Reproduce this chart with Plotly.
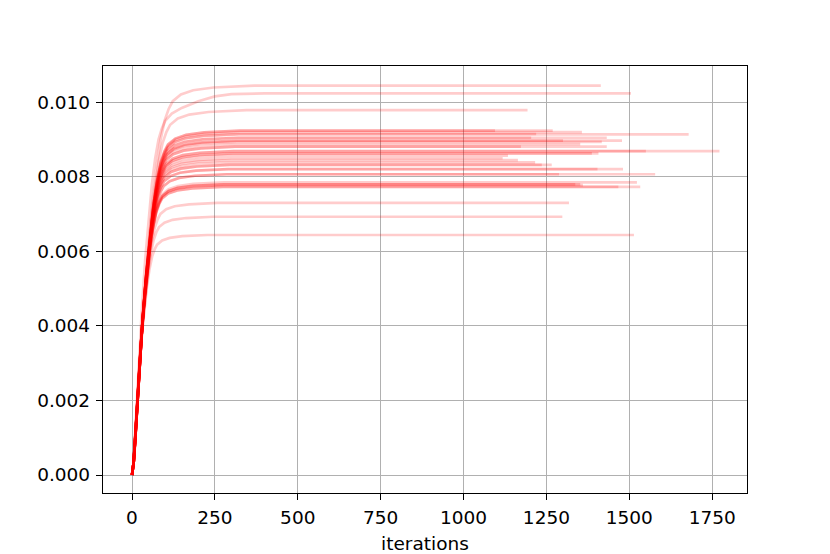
import plotly.graph_objects as go

# plateau value and last iteration of each run
plateaus = [0.01045, 0.00979, 0.00924, 0.00924, 0.00920, 0.00914, 0.00915,
            0.00905, 0.00905, 0.00897, 0.00897, 0.00894, 0.00888, 0.00881,
            0.00881, 0.00869, 0.00869, 0.00863, 0.00863, 0.00857, 0.00850,
            0.00845, 0.00839, 0.00832, 0.00832, 0.00821, 0.00821, 0.00807,
            0.00807, 0.00785, 0.00780, 0.00780, 0.00778, 0.00773, 0.00773,
            0.00730, 0.00693, 0.00644]
ends = [1414, 1193, 1095, 1269, 1357, 1679, 1219,
        1432, 1204, 1478, 1300, 1417, 1352, 1432,
        1173, 1772, 1550, 1407, 1387, 1134, 1118,
        1164, 1216, 1266, 1236, 1481, 1404, 1578,
        1288, 1523, 1352, 1337, 1360, 1533, 1467,
        1318, 1298, 1514]

# shared rise profile (fraction of plateau) for a run with plateau 0.0085
ref_plateau = 0.0085
rise_iter = [0, 5, 10, 20, 30, 40, 50, 60, 70, 80, 90, 100, 120, 150, 200, 300]
rise_frac = [0, 0.04, 0.12, 0.31, 0.46, 0.59, 0.70, 0.79, 0.86, 0.91, 0.94,
             0.96, 0.977, 0.988, 0.995, 1.0]

# the one run that creeps up slowly after its knee
slow_iter = [0, 5, 10, 20, 30, 40, 50, 60, 70, 80, 90, 100, 120, 150, 200,
             250, 300, 400, 1505]
slow_vals = [0, 0.0004, 0.0012, 0.0030, 0.0045, 0.0058, 0.0069, 0.0078,
             0.0085, 0.0090, 0.0093, 0.0095, 0.0097, 0.00985, 0.01003,
             0.01016, 0.01022, 0.01024, 0.01024]

line_style = dict(color='rgba(255,0,0,0.2)', width=2.7)

data = []
for p, e in zip(plateaus, ends):
    k = p / ref_plateau
    xs = [i * k for i in rise_iter] + [e]
    ys = [f * p for f in rise_frac] + [p]
    data.append(go.Scatter(x=xs, y=ys, mode='lines', line=line_style,
                           hoverinfo='skip', showlegend=False))
data.insert(1, go.Scatter(x=slow_iter, y=slow_vals, mode='lines',
                          line=line_style, hoverinfo='skip', showlegend=False))

axis_common = dict(showgrid=True, gridcolor='#b0b0b0', gridwidth=1.4,
                   showline=True, linecolor='black', linewidth=1.4,
                   mirror=True, ticks='outside', ticklen=6, tickwidth=1.4,
                   tickcolor='black', zeroline=False, automargin=False,
                   ticklabelstandoff=2)

# page body adds ~8px offset, so the figure is a bit smaller than the window
layout = go.Layout(
    width=822, height=546,
    margin=dict(l=95, r=83, t=58, b=61),
    paper_bgcolor='white', plot_bgcolor='white',
    font=dict(family='DejaVu Sans', size=18.5, color='black'),
    xaxis=dict(range=[-87.5, 1855],
               tickvals=[0, 250, 500, 750, 1000, 1250, 1500, 1750],
               title=dict(text='iterations', standoff=11,
                          font=dict(size=18.5)),
               **axis_common),
    yaxis=dict(range=[-0.000483, 0.010975],
               tickvals=[0, 0.002, 0.004, 0.006, 0.008, 0.010],
               tickformat='.3f', **axis_common),
)

fig = go.Figure(data=data, layout=layout)
fig.write_html("out.html")
